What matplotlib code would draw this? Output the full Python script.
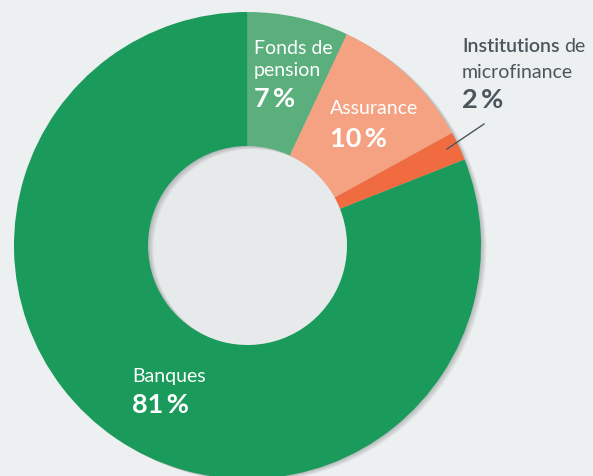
import matplotlib.pyplot as plt
from matplotlib.patches import Annulus, Circle

# data
categories = ['Fonds de pension', 'Assurance', 'Institutions de microfinance', 'Banques']
shares = [7, 10, 2, 81]
colors = ['#5AAF7D', '#F5A283', '#F06B40', '#1A9A5B']

W, H = 593, 477
bg = '#ECF0F1'
grey = '#4B565C'
fam = ['Lato', 'DejaVu Sans']

fig = plt.figure(figsize=(W / 100, H / 100), dpi=100)
fig.patch.set_facecolor(bg)
ax = fig.add_axes([0, 0, 1, 1])
ax.set_facecolor(bg)

cx, cy = 247.5, H - 246.5
r_out, r_in = 233.5, 99.5

# hole is a touch darker than the page
ax.add_patch(Circle((cx, cy), r_in + 2, color='#E6EAEB', lw=0, zorder=-1))

# soft shadow under the ring
for i in range(1, 8):
    ax.add_patch(Annulus((cx + i * 0.8, cy - i * 0.45), r_out, r_out - r_in,
                         color='black', alpha=0.03, lw=0, zorder=0))

ax.pie(shares, colors=colors, startangle=90, counterclock=False,
       radius=r_out, center=(cx, cy),
       wedgeprops=dict(width=r_out - r_in, linewidth=0))

ax.set_xlim(0, W)
ax.set_ylim(0, H)
ax.set_aspect('equal')
ax.axis('off')


def pct(v):
    return f'{v}\u2009%'


lab = dict(fontsize=14, family=fam, va='baseline', ha='left')
big = dict(fontsize=19.5, family=fam, fontweight='bold', va='baseline', ha='left')

# Fonds de pension
ax.text(254, H - 54, 'Fonds de', color='white', **lab)
ax.text(254, H - 76, 'pension', color='white', **lab)
ax.text(254, H - 107, pct(shares[0]), color='white', **big)

# Assurance
ax.text(330, H - 114, 'Assurance', color='white', **lab)
ax.text(330, H - 147, pct(shares[1]), color='white', **big)

# Institutions de microfinance
t1 = ax.text(462, H - 55, 'Institutions', color=grey, fontweight='semibold',
             fontsize=14, family=fam, va='bottom', ha='left')
ax.annotate('de', xy=(1, 0), xycoords=t1, xytext=(3, 0), textcoords='offset points',
            color=grey, fontsize=14, family=fam, va='bottom', ha='left')
ax.text(462, H - 78, 'microfinance', color=grey, **lab)
ax.text(462, H - 108, pct(shares[2]), color=grey, **big)
ax.plot([447, 484], [H - 150, H - 125], color=grey, lw=1)

# Banques
ax.text(132, H - 382, 'Banques', color='white', **lab)
ax.text(132, H - 413, pct(shares[3]), color='white', **big)

fig.savefig('out.png', dpi=100, facecolor=bg)
